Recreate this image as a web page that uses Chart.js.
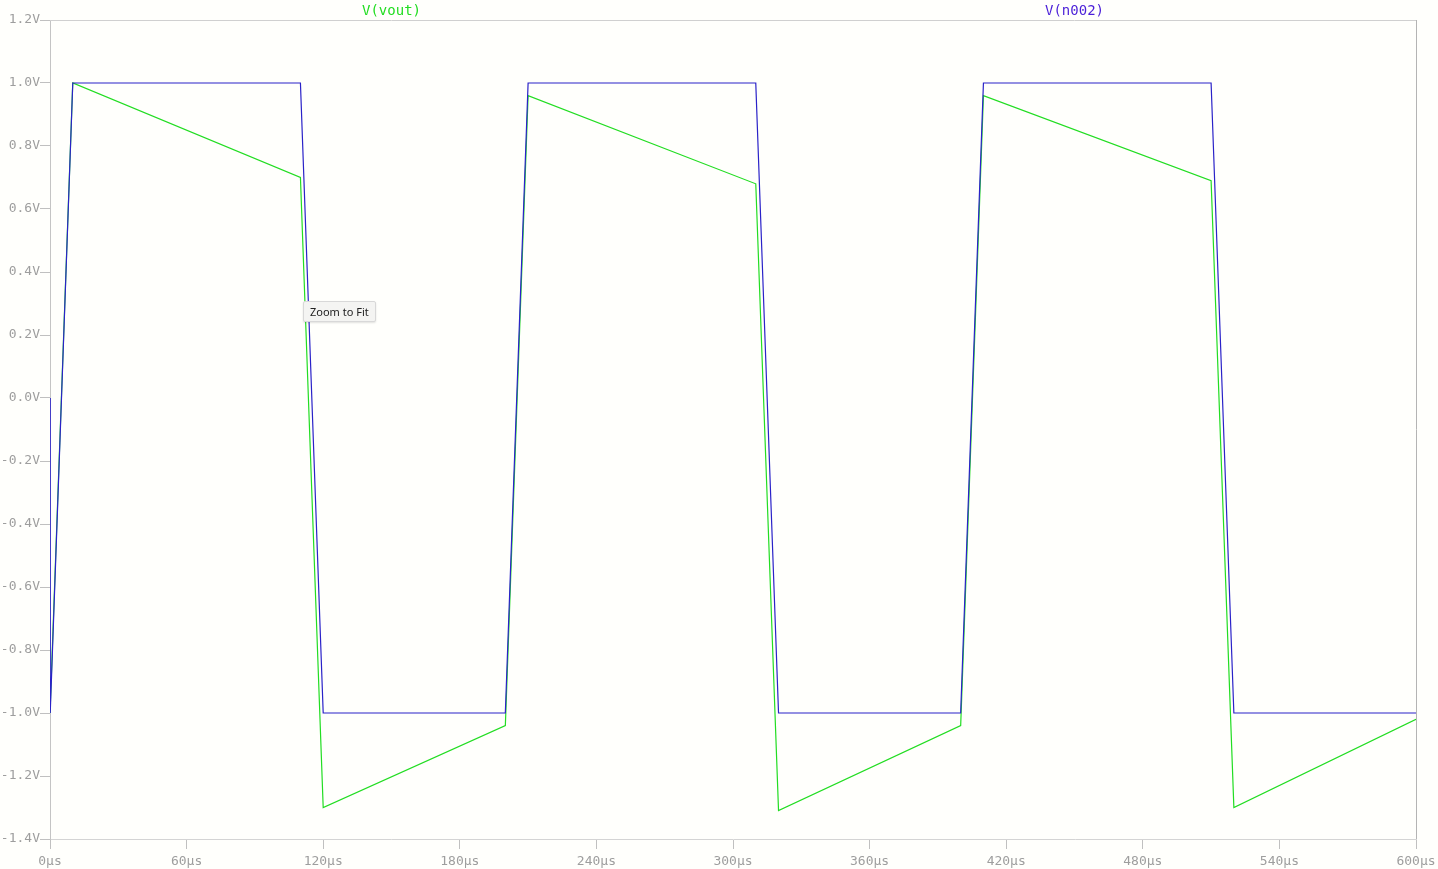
<!DOCTYPE html>
<html>
<head>
<meta charset="utf-8">
<script src="https://cdn.jsdelivr.net/npm/chart.js@4/dist/chart.umd.min.js"></script>
<style>
  html, body { margin: 0; padding: 0; background: #fffffc; }
  #wrap { position: relative; width: 1438px; height: 869px; }
  #tip {
    position: absolute; left: 303px; top: 301px;
    padding: 2px 6px; font: 11px "Noto Sans", "DejaVu Sans", sans-serif; color: #222;
    background: #f4f4f2; border: 1px solid #d8d8d8; border-radius: 2px;
    box-shadow: 0 1px 2px rgba(0,0,0,0.12);
  }
</style>
</head>
<body>
<div id="wrap">
  <canvas id="chart" width="1438" height="869"></canvas>
  <div id="tip">Zoom to Fit</div>
</div>
<script>
'use strict';

// trace names
var traceNames = ['V(vout)', 'V(n002)'];

// V(n002) - the square wave source (time in µs, volts)
var n002Time = [0, 0.1, 10, 110, 120, 200, 210, 310, 320, 400, 410, 510, 520, 600];
var n002Volt = [0, -1, 1, 1, -1, -1, 1, 1, -1, -1, 1, 1, -1, -1];

// V(vout) - after the RC
var voutTime = [0, 10, 110, 120, 200, 210, 310, 320, 400, 410, 510, 520, 600];
var voutVolt = [-1, 1, 0.70, -1.30, -1.04, 0.96, 0.68, -1.31, -1.04, 0.96, 0.69, -1.30, -1.02];

// axis ticks
var xTicks = [0, 60, 120, 180, 240, 300, 360, 420, 480, 540, 600];
var yTicks = [-1.4, -1.2, -1.0, -0.8, -0.6, -0.4, -0.2, 0.0, 0.2, 0.4, 0.6, 0.8, 1.0, 1.2];

var GRAY = '#9e9e9e';
var MONO = '"DejaVu Sans Mono", "Liberation Mono", monospace';

function toPoints(xs, ys) {
  return xs.map(function(x, i) { return { x: x, y: ys[i] }; });
}

// box around the plot + trace names on top
var framePlugin = {
  id: 'frame',
  beforeDatasetsDraw: function(chart) {
    var ctx = chart.ctx, a = chart.chartArea;
    ctx.save();
    ctx.lineWidth = 1;
    ctx.strokeStyle = '#d0d0d0';
    ctx.beginPath();
    ctx.moveTo(a.left, a.top + 0.5);
    ctx.lineTo(a.right, a.top + 0.5);
    ctx.stroke();
    ctx.strokeStyle = '#b4b4b4';
    ctx.beginPath();
    ctx.moveTo(a.right + 0.5, a.top);
    ctx.lineTo(a.right + 0.5, a.bottom);
    ctx.stroke();
    ctx.restore();
  },
  afterDraw: function(chart) {
    var ctx = chart.ctx, a = chart.chartArea;
    var w = a.right - a.left;
    ctx.save();
    ctx.font = '14px ' + MONO;
    ctx.textAlign = 'center';
    ctx.textBaseline = 'middle';
    ctx.fillStyle = '#22dd22';
    ctx.fillText(traceNames[0], a.left + w * 0.25, 11);
    ctx.fillStyle = '#4a1fd8';
    ctx.fillText(traceNames[1], a.left + w * 0.75, 11);
    ctx.restore();
  }
};

var ctx = document.getElementById('chart').getContext('2d');

new Chart(ctx, {
  type: 'line',
  data: {
    datasets: [{
      label: traceNames[1],
      data: toPoints(n002Time, n002Volt),
      borderColor: '#2a22c8',
      borderWidth: 1.2,
      pointRadius: 0,
      tension: 0,
      order: 1
    }, {
      label: traceNames[0],
      data: toPoints(voutTime, voutVolt),
      borderColor: '#22dd22',
      borderWidth: 1.2,
      pointRadius: 0,
      tension: 0,
      order: 2
    }]
  },
  options: {
    responsive: false,
    animation: false,
    layout: { padding: { top: 20, right: 22, left: 0, bottom: 0 } },
    plugins: {
      legend: { display: false },
      tooltip: { enabled: false }
    },
    scales: {
      x: {
        type: 'linear',
        min: 0,
        max: 600,
        afterFit: function(s) {
          s.height = 30;
          s.paddingLeft = 0;
          s.paddingRight = 0;
        },
        afterBuildTicks: function(s) {
          s.ticks = xTicks.map(function(v) { return { value: v }; });
        },
        ticks: {
          color: GRAY,
          font: { family: MONO, size: 13 },
          padding: 5,
          maxRotation: 0,
          autoSkip: false,
          callback: function(v) { return v + 'µs'; }
        },
        grid: { drawOnChartArea: false, tickLength: 10, color: '#c0c0c0' },
        border: { color: '#d4d4d4' }
      },
      y: {
        type: 'linear',
        min: -1.4,
        max: 1.2,
        afterFit: function(s) {
          s.width = 50;
          s.paddingTop = 0;
          s.paddingBottom = 0;
        },
        afterBuildTicks: function(s) {
          s.ticks = yTicks.map(function(v) { return { value: v }; });
        },
        ticks: {
          color: GRAY,
          font: { family: MONO, size: 13 },
          padding: 0,
          autoSkip: false,
          callback: function(v) { return v.toFixed(1) + 'V'; }
        },
        grid: { drawOnChartArea: false, tickLength: 10, color: '#c0c0c0' },
        border: { color: '#c4c4c4' }
      }
    }
  },
  plugins: [framePlugin]
});
</script>
</body>
</html>
